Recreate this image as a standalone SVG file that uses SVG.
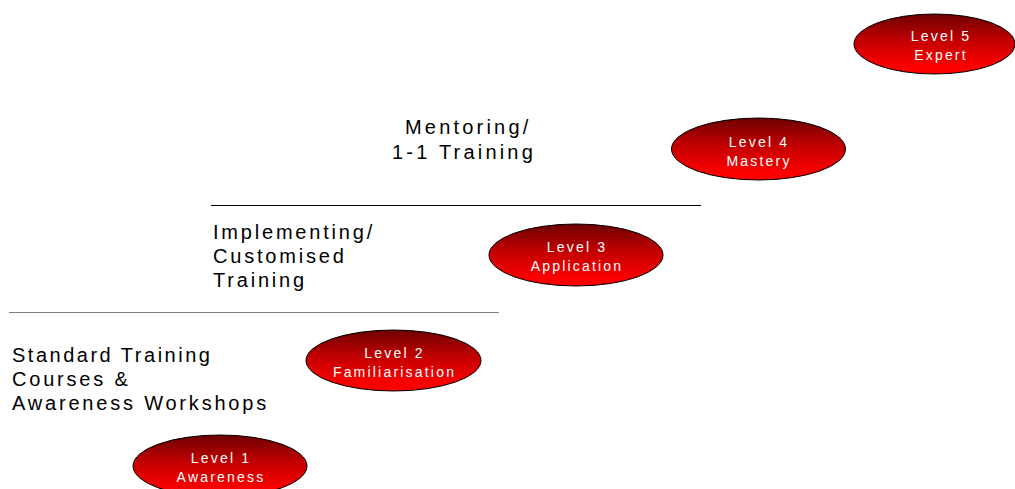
<svg xmlns="http://www.w3.org/2000/svg" width="1015" height="489" viewBox="0 0 1015 489">
  <defs>
    <linearGradient id="redFill" x1="0" y1="0" x2="0" y2="1">
      <stop offset="0" stop-color="#6e0000"/>
      <stop offset="0.45" stop-color="#c40000"/>
      <stop offset="0.85" stop-color="#f80000"/>
      <stop offset="1" stop-color="#ff0000"/>
    </linearGradient>
  </defs>
  <style>
    .level ellipse { fill: url(#redFill); stroke: #000; stroke-width: 1; }
    .level text { font-family: "Liberation Sans", Arial, sans-serif; font-size: 14px; letter-spacing: 2.2px; fill: #fff; text-anchor: middle; }
    .stage text { font-family: "Liberation Sans", Arial, sans-serif; font-size: 20px; letter-spacing: 2.8px; fill: #000; }
    .stage text.tight { letter-spacing: 2.5px; }
    .stage text.wide { letter-spacing: 3.2px; }
    .divider { stroke-width: 1; }
  </style>
  <rect width="1015" height="489" fill="#fff"/>

  <!-- horizontal dividers between training stages -->
  <g id="connectors">
    <line class="divider" x1="9" y1="312.5" x2="499" y2="312.5" stroke="#808080"/>
    <line class="divider" x1="211" y1="205.5" x2="701" y2="205.5" stroke="#000"/>
  </g>

  <!-- training stage labels -->
  <g id="stage-standard" class="stage">
    <text class="tight" x="12" y="361.5">Standard Training</text>
    <text x="12" y="385.5">Courses &amp;</text>
    <text x="12" y="409.5">Awareness Workshops</text>
  </g>
  <g id="stage-implementing" class="stage">
    <text x="213" y="239">Implementing/</text>
    <text x="213" y="263">Customised</text>
    <text x="213" y="287">Training</text>
  </g>
  <g id="stage-mentoring" class="stage">
    <text class="wide" x="405" y="133.5">Mentoring/</text>
    <text class="wide" x="392" y="158.5">1-1 Training</text>
  </g>

  <!-- competence levels -->
  <g id="level-1" class="level">
    <ellipse cx="220" cy="466" rx="87" ry="31"/>
    <text x="221" y="463">Level 1</text>
    <text x="221" y="482">Awareness</text>
  </g>
  <g id="level-2" class="level">
    <ellipse cx="393.5" cy="360.5" rx="87.5" ry="30.5"/>
    <text x="394.5" y="357.5">Level 2</text>
    <text x="394.5" y="376.5">Familiarisation</text>
  </g>
  <g id="level-3" class="level">
    <ellipse cx="576" cy="255" rx="87" ry="31"/>
    <text x="577" y="252">Level 3</text>
    <text x="577" y="271">Application</text>
  </g>
  <g id="level-4" class="level">
    <ellipse cx="758.5" cy="149" rx="87" ry="31"/>
    <text x="759" y="146.5">Level 4</text>
    <text x="759" y="165.5">Mastery</text>
  </g>
  <g id="level-5" class="level">
    <ellipse cx="934.5" cy="44" rx="80.5" ry="30"/>
    <text x="941" y="41">Level 5</text>
    <text x="941" y="60">Expert</text>
  </g>
</svg>
